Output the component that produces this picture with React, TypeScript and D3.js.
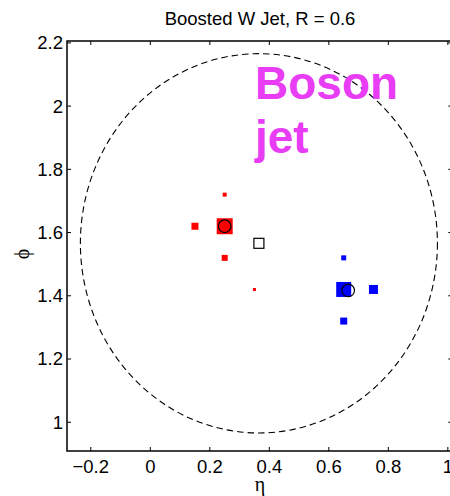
import * as d3 from 'd3';

// constituent particles, one array per property
const redEta = [0.25, 0.15, 0.25, 0.25, 0.35];
const redPhi = [1.62, 1.62, 1.72, 1.52, 1.42];
const redSize = [16, 7, 4, 6, 3];

const blueEta = [0.65, 0.75, 0.65, 0.65];
const bluePhi = [1.42, 1.42, 1.52, 1.32];
const blueSize = [15, 9, 5, 7];

// subjet axes (circles) and fat jet axis (hollow square)
const subEta = [0.25, 0.665];
const subPhi = [1.62, 1.417];
const jetEta = 0.365;
const jetPhi = 1.566;
const jetR = 0.6;

const xTicks = [-0.2, 0, 0.2, 0.4, 0.6, 0.8, 1];
const xTickLabels = ['\u22120.2', '0', '0.2', '0.4', '0.6', '0.8', '1'];
const yTicks = [1, 1.2, 1.4, 1.6, 1.8, 2, 2.2];
const yTickLabels = ['1', '1.2', '1.4', '1.6', '1.8', '2', '2.2'];

const W = 450;
const H = 496;
const font = '"Liberation Sans", Arial, sans-serif';

export default function App() {
  const x = d3.scaleLinear().domain([-0.28, 1.015]).range([67, 452.3]);
  const y = d3.scaleLinear().domain([0.909, 2.206]).range([451, 41]);

  const [x0, x1] = x.range();
  const [y0, y1] = y.range();

  const square = (cx: number, cy: number, s: number, fill: string, key: string) => (
    <rect key={key} x={cx - s / 2} y={cy - s / 2} width={s} height={s} fill={fill} />
  );

  return (
    <div style={{ position: 'absolute', left: 0, top: 0 }}>
      <svg width={W} height={H} style={{ display: 'block', background: '#fff' }}>
        <text x={260} y={25} textAnchor="middle" fontFamily={font} fontSize={18.5}>
          Boosted W Jet, R = 0.6
        </text>

        {/* jet cone */}
        <ellipse
          cx={x(jetEta)}
          cy={y(jetPhi)}
          rx={x(jetEta + jetR) - x(jetEta)}
          ry={y(jetPhi - jetR) - y(jetPhi)}
          fill="none"
          stroke="#000"
          strokeWidth={1.1}
          strokeDasharray="6.5,4"
        />

        {redEta.map((e, i) => square(x(e), y(redPhi[i]), redSize[i], '#ff0000', 'r' + i))}
        {blueEta.map((e, i) => square(x(e), y(bluePhi[i]), blueSize[i], '#0000ff', 'b' + i))}

        {subEta.map((e, i) => (
          <circle key={'c' + i} cx={x(e)} cy={y(subPhi[i])} r={6.3} fill="none" stroke="#000" strokeWidth={1.2} />
        ))}
        <rect
          x={x(jetEta) - 5}
          y={y(jetPhi) - 5}
          width={10}
          height={10}
          fill="none"
          stroke="#000"
          strokeWidth={1.2}
        />

        <text fontFamily={font} fontWeight="bold" fontSize={46} fill="#e83cf5">
          <tspan x={255} y={99}>Boson</tspan>
          <tspan x={255} y={153}>jet</tspan>
        </text>

        {/* axes box with inward ticks */}
        <g stroke="#000" strokeWidth={1}>
          {xTicks.map((t) => (
            <g key={'xt' + t}>
              <line x1={x(t)} x2={x(t)} y1={y0} y2={y0 - 4} />
              <line x1={x(t)} x2={x(t)} y1={y1} y2={y1 + 4} />
            </g>
          ))}
          {yTicks.map((t) => (
            <g key={'yt' + t}>
              <line x1={x0} x2={x0 + 4} y1={y(t)} y2={y(t)} />
              <line x1={x1} x2={x1 - 4} y1={y(t)} y2={y(t)} />
            </g>
          ))}
        </g>
        <rect x={x0} y={y1} width={x1 - x0} height={y0 - y1} fill="none" stroke="#000" strokeWidth={1.5} />

        {xTicks.map((t, i) => (
          <text key={'xl' + t} x={x(t)} y={472.5} textAnchor="middle" fontFamily={font} fontSize={18.5}>
            {xTickLabels[i]}
          </text>
        ))}
        {yTicks.map((t, i) => (
          <text
            key={'yl' + t}
            x={x0 - 4}
            y={y(t)}
            dy="0.35em"
            textAnchor="end"
            fontFamily={font}
            fontSize={18.5}
          >
            {yTickLabels[i]}
          </text>
        ))}

        <text x={260} y={491} textAnchor="middle" fontFamily='"Liberation Serif", serif' fontSize={20}>
          η
        </text>
        <text
          transform={`translate(29,${(y0 + y1) / 2 + 8}) rotate(-90)`}
          textAnchor="middle"
          fontFamily='"Liberation Serif", serif'
          fontSize={20}
        >
          ϕ
        </text>
      </svg>
    </div>
  );
}
